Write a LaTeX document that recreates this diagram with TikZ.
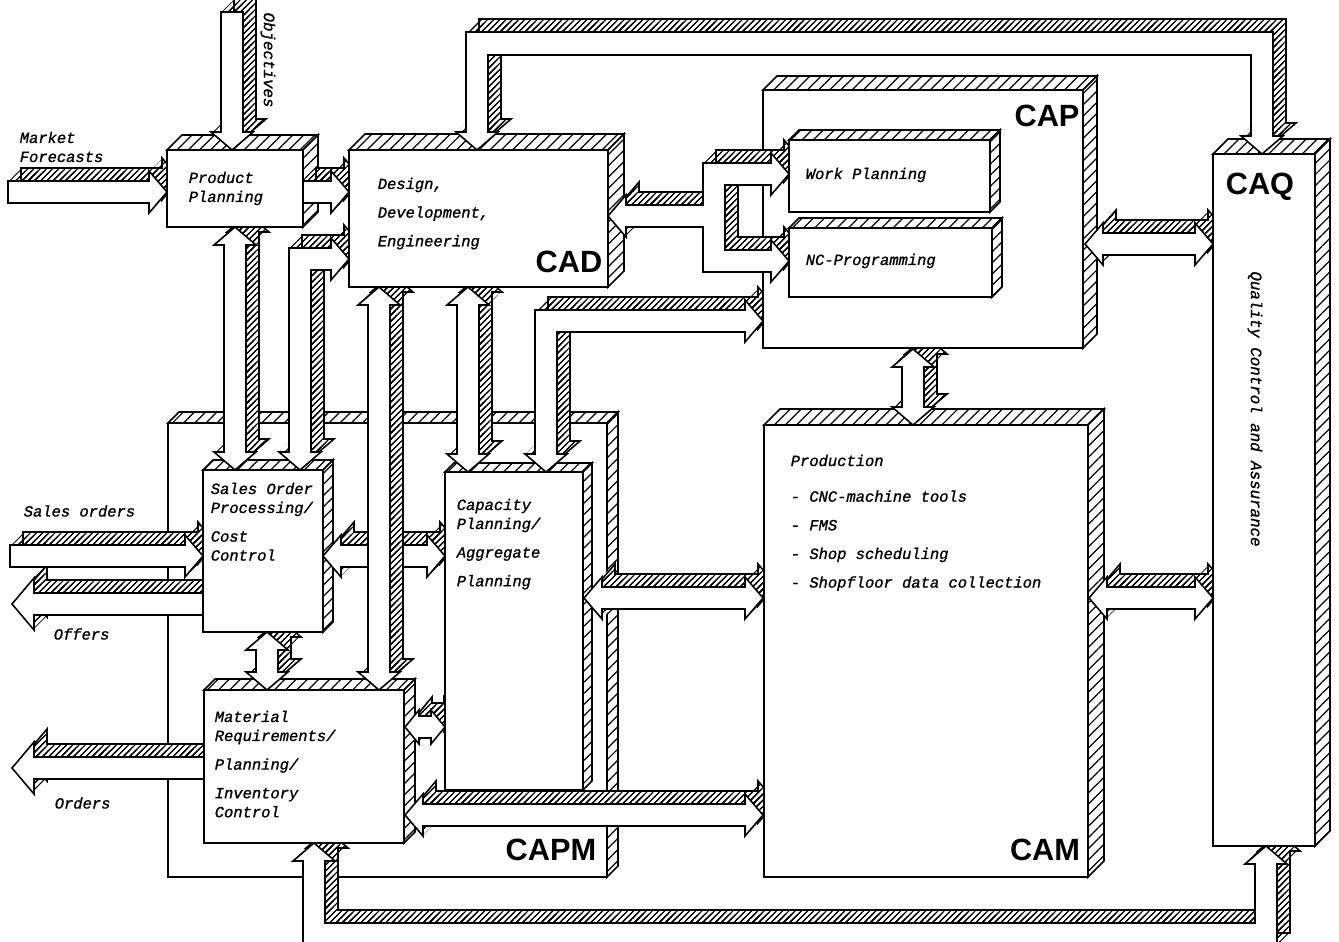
\documentclass[tikz,border=0pt]{standalone}
\usepackage{fontspec}
\setmainfont{Liberation Sans}
\setsansfont{Liberation Sans}
\setmonofont{Liberation Mono}[ItalicFeatures={FakeBold=1.2}]
\usetikzlibrary{patterns.meta}

\tikzset{
  rayado/.style={pattern={Lines[angle=45,distance=4.5pt,line width=0.7pt]}},
  rayadofino/.style={pattern={Lines[angle=45,distance=2.5pt,line width=0.45pt]}},
  texto/.style={font=\ttfamily\itshape\fontsize{8.8}{10.8}\selectfont, align=left, inner sep=0pt},
  girado/.style={font=\ttfamily\itshape\fontsize{9}{11}\selectfont, inner sep=0pt, rotate=-90},
  sigla/.style={font=\sffamily\bfseries\fontsize{17.5}{18}\selectfont, inner sep=0pt}
}

% medidas de las puntas
\newcommand{\lcab}{18}
\newcommand{\acab}{21}

% caja en 3D: x1 y1 x2 y2 profundidad
\newcommand{\caja}[5]{%
  \draw[rayado, preaction={fill=white}] (#1,#2) -- ({#1+#5},{#2-#5}) -- ({#3+#5},{#2-#5}) -- (#3,#2) -- cycle;
  \draw[rayado, preaction={fill=white}] (#3,#2) -- ({#3+#5},{#2-#5}) -- ({#3+#5},{#4-#5}) -- (#3,#4) -- cycle;
  \draw[fill=white] (#1,#2) rectangle (#3,#4);
}

% flecha gruesa en 3D
\newcommand{\flecha}[1]{%
  \foreach \t in {0,...,13} {\fill[white, shift={(\t,-\t)}] #1;}
  \foreach \t in {0,...,13} {\path[rayadofino, shift={(\t,-\t)}] #1;}
  \draw[shift={(13,-13)}] #1;
  \draw[fill=white] #1;
}
\newcommand{\fhder}[3]{\flecha{(#1,{#3-11}) -- ({#2-\lcab},{#3-11}) -- ({#2-\lcab},{#3-\acab}) -- (#2,#3) -- ({#2-\lcab},{#3+\acab}) -- ({#2-\lcab},{#3+11}) -- (#1,{#3+11}) -- cycle}}
\newcommand{\fhizq}[3]{\flecha{(#1,#3) -- ({#1+\lcab},{#3-\acab}) -- ({#1+\lcab},{#3-11}) -- (#2,{#3-11}) -- (#2,{#3+11}) -- ({#1+\lcab},{#3+11}) -- ({#1+\lcab},{#3+\acab}) -- cycle}}
\newcommand{\fhdoble}[3]{\flecha{(#1,#3) -- ({#1+\lcab},{#3-\acab}) -- ({#1+\lcab},{#3-11}) -- ({#2-\lcab},{#3-11}) -- ({#2-\lcab},{#3-\acab}) -- (#2,#3) -- ({#2-\lcab},{#3+\acab}) -- ({#2-\lcab},{#3+11}) -- ({#1+\lcab},{#3+11}) -- ({#1+\lcab},{#3+\acab}) -- cycle}}
\newcommand{\fvdoble}[3]{\flecha{(#1,#2) -- ({#1+\acab},{#2+\lcab}) -- ({#1+11},{#2+\lcab}) -- ({#1+11},{#3-\lcab}) -- ({#1+\acab},{#3-\lcab}) -- (#1,#3) -- ({#1-\acab},{#3-\lcab}) -- ({#1-11},{#3-\lcab}) -- ({#1-11},{#2+\lcab}) -- ({#1-\acab},{#2+\lcab}) -- cycle}}
\newcommand{\fvabajo}[3]{\flecha{({#1-11},#2) -- ({#1+11},#2) -- ({#1+11},{#3-\lcab}) -- ({#1+\acab},{#3-\lcab}) -- (#1,#3) -- ({#1-\acab},{#3-\lcab}) -- ({#1-11},{#3-\lcab}) -- cycle}}

\begin{document}
\begin{tikzpicture}[x=0.02cm, y=-0.02cm, line width=0.9pt]
    \useasboundingbox (0,0) rectangle (1339,942);

    % Caja CAPM (fondo)
    \caja{168}{423}{607}{877}{11}

    % Entradas y salidas a la izquierda
    {\renewcommand{\lcab}{22}\renewcommand{\acab}{26}
     \fhizq{12}{204}{768}
     \fhizq{12}{203}{604}}
    \fhder{10}{203}{556}

    % Lazo inferior
    \flecha{(314,843) -- (335,861) -- (325,861) -- (325,923) -- (1255,923) -- (1255,864) -- (1245,864) -- (1266,846) -- (1287,864) -- (1277,864) -- (1277,946) -- (303,946) -- (303,861) -- (293,861) -- cycle}

    % Material, Sales Order y Capacity
    \caja{204}{690}{404}{843}{11}
    \fvdoble{267}{632}{690}
    \caja{203}{470}{323}{632}{10}
    \fhdoble{323}{445}{556}
    {\renewcommand{\lcab}{14}\renewcommand{\acab}{17}
     \fhdoble{405}{445}{727}}
    \fvdoble{379}{287}{690}
    \caja{445}{472}{583}{790}{9}
    \fvdoble{468}{287}{472}
    \fhdoble{584}{763}{598}
    \fhdoble{405}{763}{815}
    \flecha{(546,472) -- (525,454) -- (535,454) -- (535,310) -- (745,310) -- (745,300) -- (763,321) -- (745,342) -- (745,332) -- (557,332) -- (557,454) -- (567,454) -- cycle}

    % CAM
    \caja{764}{425}{1088}{877}{16}
    \fvdoble{913}{349}{425}

    % Product Planning y CAD
    \fvdoble{235}{227}{470}
    \flecha{(300,470) -- (279,452) -- (289,452) -- (289,248) -- (331,248) -- (331,238) -- (349,259) -- (331,280) -- (331,270) -- (311,270) -- (311,452) -- (321,452) -- cycle}
    \fhder{8}{167}{192}
    \caja{167}{150}{303}{227}{15}
    \fvabajo{232}{12}{150}
    \fhder{303}{349}{192}
    \caja{349}{150}{608}{287}{16}

    % CAP
    \caja{763}{90}{1083}{348}{14}
    \flecha{(608,216) -- (626,195) -- (626,205) -- (703,205) -- (703,163) -- (771,163) -- (771,153) -- (789,174) -- (771,195) -- (771,185) -- (725,185) -- (725,250) -- (771,250) -- (771,240) -- (789,261) -- (771,282) -- (771,272) -- (703,272) -- (703,227) -- (626,227) -- (626,237) -- cycle}
    \caja{789}{140}{990}{212}{10}
    \caja{789}{228}{992}{297}{10}

    % CAQ
    \fhdoble{1085}{1213}{244}
    \fhdoble{1089}{1213}{598}
    \caja{1213}{154}{1315}{846}{15}
    \flecha{(477,150) -- (456,132) -- (466,132) -- (466,32) -- (1273,32) -- (1273,136) -- (1283,136) -- (1262,154) -- (1241,136) -- (1251,136) -- (1251,55) -- (488,55) -- (488,132) -- (498,132) -- cycle}

    % Textos
    \node[texto, anchor=north west] (mercado) at (19,131) {Market\\Forecasts};
    \node[girado] (objetivos) at (268,60) {Objectives};
    \node[texto, anchor=west] (pedidos) at (23,511) {Sales orders};
    \node[texto, anchor=west] (ofertas) at (53,634) {Offers};
    \node[texto, anchor=west] (ordenes) at (54,803) {Orders};
    \node[texto, anchor=north west] (tpp) at (188,171) {Product\\Planning};
    \node[texto, anchor=north west] (tcad) at (377,177) {Design,\\[5.5pt]Development,\\[5.5pt]Engineering};
    \node[texto, anchor=west] (twp) at (805,175) {Work Planning};
    \node[texto, anchor=west] (tnc) at (805,261) {NC-Programming};
    \node[texto, anchor=north west] (tcam) at (790,454) {Production\\[9.5pt]- CNC-machine tools\\[5.5pt]- FMS\\[5.5pt]- Shop scheduling\\[5.5pt]- Shopfloor data collection};
    \node[texto, anchor=north west] (tsales) at (210,482) {Sales Order\\Processing/\\[5.5pt]Cost\\Control};
    \node[texto, anchor=north west] (tcap) at (456,498) {Capacity\\Planning/\\[5.5pt]Aggregate\\[5.5pt]Planning};
    \node[texto, anchor=north west] (tmat) at (214,710) {Material\\Requirements/\\[5.5pt]Planning/\\[5.5pt]Inventory\\Control};
    \node[girado] (tcaq) at (1255,409) {Quality Control and Assurance};

    % Siglas
    \node[sigla] (cad) at (569,262) {CAD};
    \node[sigla] (cap) at (1047,116) {CAP};
    \node[sigla] (caq) at (1260,187) {CAQ};
    \node[sigla] (capm) at (551,850) {CAPM};
    \node[sigla] (cam) at (1045,850) {CAM};
\end{tikzpicture}
\end{document}
